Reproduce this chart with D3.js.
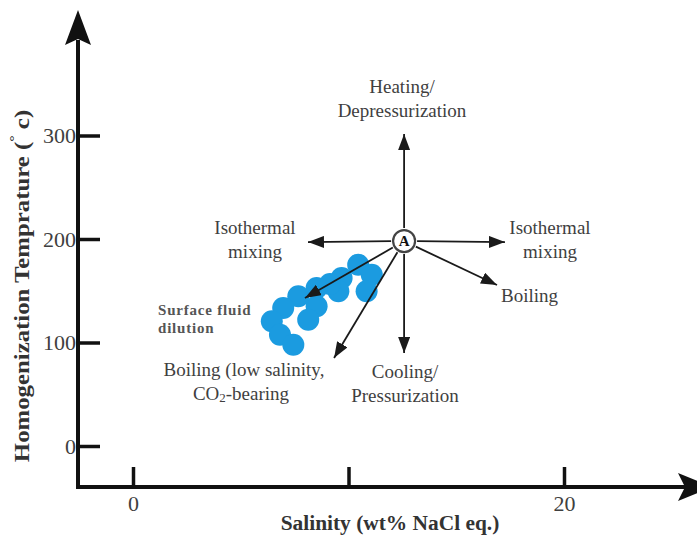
<!DOCTYPE html>
<html>
<head>
<meta charset="utf-8">
<script src="https://cdn.jsdelivr.net/npm/d3@7"></script>
<style>
  html, body { margin: 0; padding: 0; background: #fff; }
  svg { display: block; }
</style>
</head>
<body>
<svg id="chart" width="697" height="539"></svg>
<script>
// Axis ticks
const xTickValues = [0, 10, 20];
const xTickLabels = ["0", "", "20"];
const yTickValues = [0, 100, 200, 300];
const yTickLabels = ["0", "100", "200", "300"];

// Fluid inclusion measurements: salinity (wt% NaCl eq.) and Th (°C)
const salinity    = [10.45, 11.08, 9.68, 10.84, 9.53, 9.14, 8.52, 8.52, 8.13, 7.67, 6.97, 6.44, 6.82, 7.44];
const temperature = [175.2, 165.5, 162.3, 149.5, 149.5, 156.5, 152.7, 135.0, 122.0, 144.6, 133.3, 120.5, 107.5, 97.9];

// Reference fluid A and the evolution paths radiating from it
const pointA = [12.58, 198];
const processNames = ["Heating/Depressurization", "Cooling/Pressurization", "Isothermal mixing (low)",
                      "Isothermal mixing (high)", "Boiling", "Boiling (low salinity, CO2-bearing)", "Surface fluid dilution"];
const processEndX = [12.58, 12.58, 8.12, 17.26, 16.89, 9.33, 7.98];
const processEndY = [301.4, 89.9, 197, 197, 155.6, 85, 143];

const svg = d3.select("#chart");
const serif = "'Liberation Serif', 'Times New Roman', serif";
const textGray = "#3f3f3f";

const x = d3.scaleLinear().domain([0, 20]).range([133, 564]);
const y = d3.scaleLinear().domain([0, 300]).range([446, 135.5]);

const axisX0 = 78, axisY0 = 487;

// ---- axes ----
const yAxis = d3.axisLeft(y)
  .tickValues(yTickValues)
  .tickFormat((d, i) => yTickLabels[i])
  .tickSizeInner(-22).tickSizeOuter(0).tickPadding(2);
const gy = svg.append("g").attr("transform", `translate(${axisX0},0)`).call(yAxis);
gy.select(".domain").remove();
gy.selectAll(".tick line").attr("stroke", "#111").attr("stroke-width", 3.5);
gy.selectAll(".tick text").attr("font-family", serif).attr("font-size", 22).attr("fill", textGray);

const xAxis = d3.axisBottom(x)
  .tickValues(xTickValues)
  .tickFormat((d, i) => xTickLabels[i])
  .tickSizeInner(-20).tickSizeOuter(0).tickPadding(8);
const gx = svg.append("g").attr("transform", `translate(0,${axisY0})`).call(xAxis);
gx.select(".domain").remove();
gx.selectAll(".tick line").attr("stroke", "#111").attr("stroke-width", 3.5);
gx.selectAll(".tick text").attr("font-family", serif).attr("font-size", 22).attr("fill", textGray);

// axis lines with arrowheads
svg.append("path")
  .attr("d", `M${axisX0},${axisY0 + 2} L${axisX0},40 M${axisX0 - 2},${axisY0} L690,${axisY0}`)
  .attr("stroke", "#111").attr("stroke-width", 4).attr("fill", "none");
svg.append("path")
  .attr("d", `M${axisX0},10 L${axisX0 + 13},45 L${axisX0},39 L${axisX0 - 13},45 Z`)
  .attr("fill", "#111");
svg.append("path")
  .attr("d", `M712,${axisY0} L678,${axisY0 - 14} L685,${axisY0} L678,${axisY0 + 14} Z`)
  .attr("fill", "#111");

// axis titles
svg.append("text")
  .attr("transform", "translate(390,530) scale(1.07,1)")
  .attr("text-anchor", "middle")
  .attr("font-family", serif).attr("font-weight", "bold").attr("font-size", 20)
  .attr("fill", "#333")
  .text("Salinity (wt% NaCl eq.)");

const yTitle = svg.append("text")
  .attr("transform", "translate(29,286) rotate(-90) scale(1.24,1)")
  .attr("text-anchor", "middle")
  .attr("font-family", serif).attr("font-weight", "bold").attr("font-size", 20)
  .attr("fill", "#333");
yTitle.append("tspan").text("Homogenization Temprature (");
yTitle.append("tspan").attr("dy", -11).attr("font-size", 13).text("°");
yTitle.append("tspan").attr("dy", 11).text(" c)");

// ---- data points ----
svg.append("g").selectAll("circle")
  .data(salinity.map((s, i) => [s, temperature[i]]))
  .join("circle")
  .attr("cx", d => x(d[0]))
  .attr("cy", d => y(d[1]))
  .attr("r", 11)
  .attr("fill", "#1b9be0");

// ---- process arrows from A ----
svg.append("defs").append("marker")
  .attr("id", "head")
  .attr("viewBox", "-16 -6 16 12")
  .attr("refX", 0).attr("refY", 0)
  .attr("markerWidth", 16).attr("markerHeight", 12)
  .attr("markerUnits", "userSpaceOnUse")
  .attr("orient", "auto")
  .append("path")
  .attr("d", "M0,0 L-16,-6 L-16,6 Z")
  .attr("fill", "#1a1a1a");

const ax = x(pointA[0]), ay = y(pointA[1]);
const rA = 11;
svg.append("g").selectAll("line")
  .data(processNames.map((n, i) => ({ name: n, ex: x(processEndX[i]), ey: y(processEndY[i]) })))
  .join("line")
  .attr("x1", d => { const a = Math.atan2(d.ey - ay, d.ex - ax); return ax + (rA + 2) * Math.cos(a); })
  .attr("y1", d => { const a = Math.atan2(d.ey - ay, d.ex - ax); return ay + (rA + 2) * Math.sin(a); })
  .attr("x2", d => d.ex)
  .attr("y2", d => d.ey)
  .attr("stroke", "#1a1a1a")
  .attr("stroke-width", 1.8)
  .attr("marker-end", "url(#head)");

svg.append("circle")
  .attr("cx", ax).attr("cy", ay).attr("r", rA)
  .attr("fill", "#fff").attr("stroke", "#444").attr("stroke-width", 2.2);
svg.append("text")
  .attr("x", ax).attr("y", ay + 5)
  .attr("text-anchor", "middle")
  .attr("font-family", serif).attr("font-weight", "bold").attr("font-size", 15)
  .attr("fill", "#111")
  .text("A");

// ---- annotation labels ----
const labels = [
  { lines: ["Heating/", "Depressurization"], x: 402, y: 93, anchor: "middle" },
  { lines: ["Isothermal", "mixing"], x: 255, y: 234, anchor: "middle" },
  { lines: ["Isothermal", "mixing"], x: 550, y: 234, anchor: "middle" },
  { lines: ["Boiling"], x: 501, y: 302, anchor: "start" },
  { lines: ["Cooling/", "Pressurization"], x: 405, y: 378, anchor: "middle" },
];
labels.forEach(l => {
  const t = svg.append("text")
    .attr("text-anchor", l.anchor)
    .attr("font-family", serif).attr("font-size", 19).attr("fill", textGray);
  l.lines.forEach((s, i) => t.append("tspan").attr("x", l.x).attr("y", l.y + i * 24).text(s));
});

// Boiling (low salinity, CO2-bearing)
const bl = svg.append("text")
  .attr("text-anchor", "middle")
  .attr("font-family", serif).attr("font-size", 19).attr("fill", textGray);
bl.append("tspan").attr("x", 244).attr("y", 376).text("Boiling (low salinity,");
const l2 = bl.append("tspan").attr("x", 241).attr("y", 400);
l2.append("tspan").text("CO");
l2.append("tspan").attr("font-size", 13).attr("dy", 2).text("2");
l2.append("tspan").attr("dy", -2).text("-bearing");

// Surface fluid dilution
const sf = svg.append("text")
  .attr("font-family", serif).attr("font-weight", "bold").attr("font-size", 15)
  .attr("letter-spacing", 0.8).attr("fill", "#555");
sf.append("tspan").attr("x", 158).attr("y", 315).text("Surface fluid");
sf.append("tspan").attr("x", 158).attr("y", 333).text("dilution");
</script>
</body>
</html>
